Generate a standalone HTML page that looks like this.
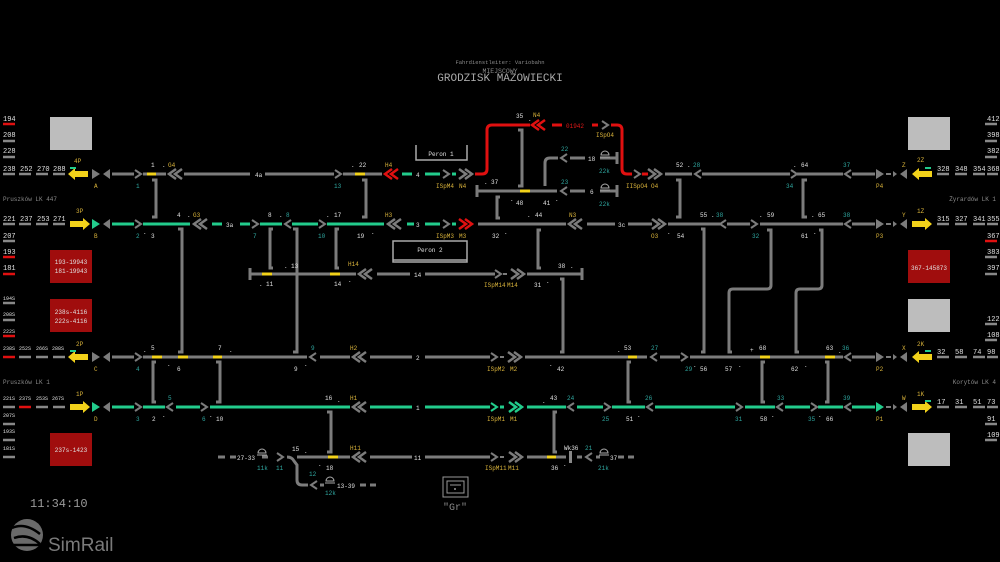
<!DOCTYPE html>
<html><head><meta charset="utf-8"><style>
html,body{margin:0;padding:0;background:#000;}
svg{display:block;}
text{font-family:"Liberation Mono",monospace;font-size:7px;}
.s{font-size:6px}
.w{fill:#e0e0e0}.t{fill:#2fa7a0}.y{fill:#d8b23a}.g{fill:#8a8a8a}.r{fill:#e01818}
.k{stroke:#7c7c7c;stroke-width:3;fill:none}
.gn{stroke:#22cc8c;stroke-width:3;fill:none}
.rd{stroke:#e01010;stroke-width:3;fill:none}
.yl{stroke:#f2d21a;stroke-width:3;fill:none}
.br{stroke:#7c7c7c;stroke-width:3;fill:none}
</style></head><body>
<svg width="1000" height="562" viewBox="0 0 1000 562" xmlns="http://www.w3.org/2000/svg">
<defs>
<path id="cr" d="M-3,-4 L3,0 L-3,4" fill="none" stroke-width="2"/>
<path id="cl" d="M3,-4 L-3,0 L3,4" fill="none" stroke-width="2"/>
<path id="dl" d="M8,-5 L1,0 L8,5 M14,-5 L7,0 L14,5" fill="none" stroke-width="2.5"/>
<path id="dr" d="M-8,-5 L-1,0 L-8,5 M-14,-5 L-7,0 L-14,5" fill="none" stroke-width="2.5"/>
<path id="tr" d="M0,-5 L8,0 L0,5Z"/>
<path id="tl" d="M0,-5 L-7,0 L0,5Z"/>
<path id="ts" d="M0,-3 L4,0 L0,3Z"/>
<path id="yl" d="M0,0 L7,-6 L7,-3 L20,-3 L20,3 L7,3 L7,6Z" fill="#f2d21a"/>
<path id="yr" d="M0,0 L-7,-6 L-7,-3 L-20,-3 L-20,3 L-7,3 L-7,6Z" fill="#f2d21a"/>
<path id="lamp" d="M-4,0 A4,4 0 0 1 4,0 Z M-5,2 H5" fill="none" stroke="#aaa" stroke-width="1"/>
</defs>

<!-- header -->
<text x="500" y="64" class="g" text-anchor="middle" style="font-size:5.5px">Fahrdienstleiter: Variobahn</text>
<text x="500" y="73" class="g" text-anchor="middle" style="font-size:6.5px">MIEJSCOWY</text>
<text x="500" y="81" text-anchor="middle" style="font-size:11px;fill:#a8a8a8">GRODZISK MAZOWIECKI</text>

<!-- boxes -->
<rect x="50" y="117" width="42" height="33" fill="#bdbdbd"/>
<rect x="908" y="117" width="42" height="33" fill="#bdbdbd"/>
<rect x="50" y="250" width="42" height="33" fill="#a00d0d"/>
<text x="71" y="264" class="w s" text-anchor="middle">193-19943</text>
<text x="71" y="273" class="w s" text-anchor="middle">181-19943</text>
<rect x="908" y="250" width="42" height="33" fill="#a00d0d"/>
<text x="929" y="270" class="w s" text-anchor="middle">367-145873</text>
<rect x="50" y="299" width="42" height="33" fill="#a00d0d"/>
<text x="71" y="314" class="w s" text-anchor="middle">238s-4116</text>
<text x="71" y="323" class="w s" text-anchor="middle">222s-4116</text>
<rect x="908" y="299" width="42" height="33" fill="#bdbdbd"/>
<rect x="50" y="433" width="42" height="33" fill="#a00d0d"/>
<text x="71" y="452" class="w s" text-anchor="middle">237s-1423</text>
<rect x="908" y="433" width="42" height="33" fill="#bdbdbd"/>

<!-- left column -->
<g class="w s">
<text x="3" y="121">194</text><text x="3" y="137">208</text><text x="3" y="153">228</text>
<text x="3" y="171">238</text><text x="20" y="171">252</text><text x="37" y="171">270</text><text x="53" y="171">288</text>
<text x="3" y="221">221</text><text x="20" y="221">237</text><text x="37" y="221">253</text><text x="53" y="221">271</text>
<text x="3" y="238">207</text><text x="3" y="254">193</text><text x="3" y="270">181</text>
<text x="3" y="300" style="font-size:5px">194S</text><text x="3" y="316" style="font-size:5px">208S</text><text x="3" y="333" style="font-size:5px">222S</text>
<text x="3" y="350" style="font-size:5px">238S</text><text x="19" y="350" style="font-size:5px">252S</text><text x="36" y="350" style="font-size:5px">266S</text><text x="52" y="350" style="font-size:5px">288S</text>
<text x="3" y="400" style="font-size:5px">221S</text><text x="19" y="400" style="font-size:5px">237S</text><text x="36" y="400" style="font-size:5px">253S</text><text x="52" y="400" style="font-size:5px">267S</text>
<text x="3" y="417" style="font-size:5px">207S</text><text x="3" y="433" style="font-size:5px">193S</text><text x="3" y="450" style="font-size:5px">181S</text>
</g>
<g stroke-width="2.5">
<path d="M3,124H15" stroke="#e01010"/><path d="M3,141H15M3,157H15" stroke="#888"/>
<path d="M3,174H15M19,174H31M36,174H48M53,174H65" stroke="#888"/>
<path d="M3,224H15M19,224H31M36,224H48M53,224H65M3,241H15" stroke="#888"/>
<path d="M3,257H15M3,274H15" stroke="#e01010"/>
<path d="M3,303H15M3,320H15" stroke="#888"/><path d="M3,336H15M3,357H15" stroke="#e01010"/>
<path d="M19,357H31M36,357H48M53,357H65" stroke="#888"/>
<path d="M3,407H15M36,407H48M53,407H65M3,424H15M3,440H15M3,457H15" stroke="#888"/><path d="M19,407H31" stroke="#e01010"/>
</g>
<!-- right column -->
<g class="w s">
<text x="987" y="121">412</text><text x="987" y="137">398</text><text x="987" y="153">382</text>
<text x="937" y="171">328</text><text x="955" y="171">348</text><text x="973" y="171">354</text><text x="987" y="171">368</text>
<text x="937" y="221">315</text><text x="955" y="221">327</text><text x="973" y="221">341</text><text x="987" y="221">355</text>
<text x="987" y="238">367</text><text x="987" y="254">383</text><text x="987" y="270">397</text>
<text x="987" y="321">122</text><text x="987" y="337">108</text>
<text x="937" y="354">32</text><text x="955" y="354">58</text><text x="973" y="354">74</text><text x="987" y="354">98</text>
<text x="937" y="404">17</text><text x="955" y="404">31</text><text x="973" y="404">51</text><text x="987" y="404">73</text>
<text x="987" y="421">91</text><text x="987" y="437">109</text>
</g>
<g stroke-width="2.5" stroke="#888">
<path d="M985,124H997M985,141H997M985,157H997M937,174H949M955,174H967M973,174H985M987,174H998"/>
<path d="M937,224H949M955,224H967M973,224H985M987,224H998M985,257H997M985,274H997"/>
<path d="M985,324H997M985,340H997M937,357H949M955,357H967M973,357H985M987,357H998"/>
<path d="M937,407H949M955,407H967M973,407H985M987,407H998M985,424H997M985,440H997"/>
</g>
<path d="M985,241H997" stroke="#e01010" stroke-width="2.5"/>

<!-- side labels -->
<text x="3" y="201" class="g s">Pruszków LK 447</text>
<text x="996" y="201" class="g s" text-anchor="end">Żyrardów LK 1</text>
<text x="3" y="384" class="g s">Pruszków LK 1</text>
<text x="996" y="384" class="g s" text-anchor="end">Korytów LK 4</text>

<!-- ===== crossovers / verticals ===== -->
<g class="br">
<path d="M152,180H156V217H152"/>
<path d="M362,180H366V217H362"/>
<path d="M178,229H182V352H178"/>
<path d="M273,229H270V268H273"/>
<path d="M293,229H297V352H293"/>
<path d="M339,229H336V268H339"/>
<path d="M156,362H153V402H156"/>
<path d="M216,362H220V402H216"/>
<path d="M327,412H331V452H327"/>
<path d="M500,197H497V218H500"/>
<path d="M518,130H522V186H518"/>
<path d="M541,230H538V268H541"/>
<path d="M560,279H563V352H560"/>
<path d="M631,362H628V402H631"/>
<path d="M557,412H554V452H557"/>
<path d="M676,180H680V217H676"/>
<path d="M807,180H803V217H807"/>
<path d="M701,229H704V352H701"/>
<path d="M767,230H771V285Q771,289 767,289H733Q729,289 729,293V352H732"/>
<path d="M819,230H822V285Q822,289 818,289H800Q796,289 796,293V352H799"/>
<path d="M765,362H762V402H765"/>
<path d="M825,362H828V402H825"/>
</g>

<!-- ===== ROW A y=174 ===== -->
<use href="#yl" x="68" y="174"/><path d="M70,168H76" stroke="#22cc8c" stroke-width="2"/>
<use href="#tr" x="92" y="174" fill="#7c7c7c"/><use href="#tl" x="110" y="174" fill="#7c7c7c"/>
<path class="k" d="M112,174H134M143,174H166M184,174H250M265,174H334M343,174H382M665,174H692M702,174H790M797,174H843M852,174H875"/>
<path class="yl" d="M147,174H156M355,174H365"/>
<g stroke="#7c7c7c"><use href="#cr" x="138" y="174"/><use href="#dl" x="168" y="174"/><use href="#cr" x="338" y="174"/><use href="#cr" x="446" y="174"/><use href="#dr" x="473" y="174"/><use href="#cr" x="605" y="125"/><use href="#cr" x="637" y="174"/><use href="#dr" x="662" y="174"/><use href="#cl" x="698" y="174"/><use href="#cr" x="794" y="174"/><use href="#cl" x="848" y="174"/></g>
<g stroke="#e01010"><use href="#dl" x="384" y="174"/><use href="#dl" x="531" y="125"/></g>
<path class="gn" d="M402,174H412M425,174H440M452,174H456"/>
<path class="rd" d="M475,174H482Q487,174 487,169V130Q487,125 492,125H530M552,125H562M592,125H598M611,125H617Q622,125 622,130V169Q622,174 627,174H632M642,174H648"/>
<use href="#tr" x="876" y="174" fill="#7c7c7c"/><path d="M886,174H891" stroke="#7c7c7c" stroke-width="2"/><use href="#ts" x="893" y="174" fill="#7c7c7c"/><use href="#tl" x="907" y="174" fill="#7c7c7c"/>
<use href="#yl" x="912" y="174"/><path d="M925,168H931" stroke="#22cc8c" stroke-width="2"/>
<text x="74" y="163" class="y s">4P</text><text x="94" y="188" class="y s">A</text><text x="136" y="188" class="t s">1</text>
<text x="151" y="167" class="w s">1</text><text x="162" y="167" class="w s">.</text><text x="168" y="167" class="y s">G4</text>
<text x="255" y="177" class="w s">4a</text><text x="334" y="188" class="t s">13</text>
<text x="351" y="167" class="w s">.</text><text x="359" y="167" class="w s">22</text><text x="385" y="167" class="y s">H4</text>
<text x="416" y="177" class="w s">4</text><text x="436" y="188" class="y s">ISpM4</text><text x="459" y="188" class="y s">N4</text>
<text x="516" y="118" class="w s">35</text><text x="528" y="121" class="w s">.</text><text x="533" y="117" class="y s">N4</text>
<text x="566" y="128" class="r s">01942</text><text x="596" y="137" class="y s">ISpO4</text>
<text x="626" y="188" class="y s">IISpO4</text><text x="651" y="188" class="y s">O4</text>
<text x="676" y="167" class="w s">52</text><text x="687" y="167" class="w s">.</text><text x="693" y="167" class="t s">28</text>
<text x="786" y="188" class="t s">34</text><text x="793" y="167" class="w s">.</text><text x="801" y="167" class="w s">64</text>
<text x="843" y="167" class="t s">37</text><text x="876" y="188" class="y s">P4</text><text x="902" y="167" class="y s">Z</text><text x="917" y="162" class="y s">2Z</text>

<!-- upper middle -->
<path d="M416,145V160H467V145M416,160H467" stroke="#aaa" stroke-width="1.5" fill="none"/>
<text x="441" y="156" class="w s" text-anchor="middle">Peron 1</text>
<path class="k" d="M545,186V163Q545,158 550,158H558M570,158H585M600,158H616M478,191H557M570,191H585M600,191H616"/>
<path class="br" d="M477,185V197M617,152V164M617,185V197"/>
<path class="yl" d="M520,191H530"/>
<g stroke="#7c7c7c"><use href="#cl" x="564" y="158"/><use href="#cl" x="564" y="191"/></g>
<use href="#lamp" x="605" y="155"/><use href="#lamp" x="605" y="188"/>
<text x="561" y="151" class="t s">22</text><text x="588" y="161" class="w s">18</text><text x="599" y="173" class="t s">22k</text>
<text x="561" y="184" class="t s">23</text><text x="590" y="194" class="w s">6</text><text x="599" y="206" class="t s">22k</text>
<text x="484" y="184" class="w s">.</text><text x="491" y="184" class="w s">37</text>
<text x="510" y="201" class="w s">.</text><text x="516" y="205" class="w s">48</text>
<text x="543" y="205" class="w s">41</text><text x="555" y="201" class="w s">.</text>

<!-- ===== ROW B y=224 ===== -->
<use href="#yr" x="90" y="224"/>
<use href="#tr" x="92" y="224" fill="#22cc8c"/><use href="#tl" x="110" y="224" fill="#7c7c7c"/>
<path class="gn" d="M112,224H134M143,224H190M212,224H222M240,224H250M260,224H282M292,224H318M327,224H384M407,224H414M425,224H440M452,224H456"/>
<path class="k" d="M478,224H566M587,224H615M628,224H652M668,224H720M727,224H750M760,224H843M852,224H875"/>
<g stroke="#7c7c7c"><use href="#cr" x="138" y="224"/><use href="#dl" x="193" y="224"/><use href="#cr" x="255" y="224"/><use href="#cl" x="288" y="224"/><use href="#cr" x="322" y="224"/><use href="#dl" x="387" y="224"/><use href="#cr" x="446" y="224"/><use href="#dl" x="568" y="224"/><use href="#dr" x="666" y="224"/><use href="#cl" x="723" y="224"/><use href="#cr" x="754" y="224"/><use href="#cl" x="848" y="224"/></g>
<g stroke="#e01010"><use href="#dr" x="473" y="224"/></g>
<use href="#tr" x="876" y="224" fill="#7c7c7c"/><path d="M886,224H891" stroke="#7c7c7c" stroke-width="2"/><use href="#ts" x="893" y="224" fill="#7c7c7c"/><use href="#tl" x="907" y="224" fill="#7c7c7c"/>
<use href="#yr" x="932" y="224"/>
<text x="76" y="213" class="y s">3P</text><text x="94" y="238" class="y s">B</text><text x="136" y="238" class="t s">2</text><text x="143" y="234" class="w s">.</text><text x="151" y="238" class="w s">3</text>
<text x="177" y="217" class="w s">4</text><text x="187" y="217" class="w s">.</text><text x="193" y="217" class="y s">G3</text>
<text x="226" y="227" class="w s">3a</text><text x="253" y="238" class="t s">7</text>
<text x="268" y="217" class="w s">8</text><text x="279" y="217" class="w s">.</text><text x="286" y="217" class="t s">8</text><text x="318" y="238" class="t s">10</text>
<text x="326" y="217" class="w s">.</text><text x="334" y="217" class="w s">17</text><text x="357" y="238" class="w s">19</text><text x="371" y="234" class="w s">.</text>
<text x="385" y="217" class="y s">H3</text><text x="416" y="227" class="w s">3</text><text x="436" y="238" class="y s">ISpM3</text><text x="459" y="238" class="y s">M3</text>
<text x="492" y="238" class="w s">32</text><text x="504" y="234" class="w s">.</text><text x="527" y="217" class="w s">.</text><text x="535" y="217" class="w s">44</text>
<text x="569" y="217" class="y s">N3</text><text x="618" y="227" class="w s">3c</text><text x="651" y="238" class="y s">O3</text><text x="667" y="234" class="w s">.</text>
<text x="677" y="238" class="w s">54</text><text x="700" y="217" class="w s">55</text><text x="711" y="217" class="w s">.</text><text x="716" y="217" class="t s">38</text>
<text x="752" y="238" class="t s">32</text><text x="759" y="217" class="w s">.</text><text x="767" y="217" class="w s">59</text>
<text x="801" y="238" class="w s">61</text><text x="813" y="234" class="w s">.</text><text x="811" y="217" class="w s">.</text><text x="818" y="217" class="w s">65</text>
<text x="843" y="217" class="t s">38</text><text x="876" y="238" class="y s">P3</text><text x="902" y="217" class="y s">Y</text><text x="917" y="213" class="y s">1Z</text>

<!-- ===== ROW 14 y=274 ===== -->
<path d="M393,241H467V262H393Z M393,260H467" stroke="#aaa" stroke-width="1.5" fill="none"/>
<text x="430" y="252" class="w s" text-anchor="middle">Peron 2</text>
<path class="k" d="M250,274H356M377,274H410M425,274H495M527,274H582"/>
<path class="br" d="M250,268V280M582,268V280"/>
<path class="yl" d="M262,274H272M330,274H340"/><path d="M503,274H507" stroke="#7c7c7c" stroke-width="2"/>
<g stroke="#7c7c7c"><use href="#dl" x="358" y="274"/><use href="#cr" x="498" y="274"/><use href="#dr" x="525" y="274"/></g>
<text x="259" y="286" class="w s">.</text><text x="266" y="286" class="w s">11</text><text x="284" y="268" class="w s">.</text><text x="291" y="268" class="w s">13</text>
<text x="334" y="286" class="w s">14</text><text x="348" y="282" class="w s">.</text><text x="348" y="266" class="y s">H14</text>
<text x="414" y="277" class="w s">14</text><text x="484" y="287" class="y s">ISpM14</text><text x="507" y="287" class="y s">M14</text>
<text x="534" y="287" class="w s">31</text><text x="546" y="283" class="w s">.</text><text x="558" y="268" class="w s">38</text><text x="570" y="268" class="w s">.</text>

<!-- ===== ROW C y=357 ===== -->
<use href="#yl" x="68" y="357"/><path d="M70,351H76" stroke="#22cc8c" stroke-width="2"/>
<use href="#tr" x="92" y="357" fill="#7c7c7c"/><use href="#tl" x="110" y="357" fill="#7c7c7c"/>
<path class="k" d="M112,357H134M143,357H307M320,357H350M370,357H412M425,357H490M525,357H647M660,357H680M690,357H843M852,357H875"/>
<path class="yl" d="M152,357H162M178,357H188M213,357H222M628,357H637M760,357H770M825,357H835"/><path d="M500,357H504" stroke="#7c7c7c" stroke-width="2"/>
<g stroke="#7c7c7c"><use href="#cr" x="138" y="357"/><use href="#cl" x="313" y="357"/><use href="#dl" x="352" y="357"/><use href="#cr" x="494" y="357"/><use href="#dr" x="522" y="357"/><use href="#cl" x="654" y="357"/><use href="#cr" x="684" y="357"/><use href="#cl" x="848" y="357"/></g>
<use href="#tr" x="876" y="357" fill="#7c7c7c"/><path d="M886,357H891" stroke="#7c7c7c" stroke-width="2"/><use href="#ts" x="893" y="357" fill="#7c7c7c"/><use href="#tl" x="907" y="357" fill="#7c7c7c"/>
<use href="#yl" x="912" y="357"/><path d="M925,351H931" stroke="#22cc8c" stroke-width="2"/>
<text x="76" y="346" class="y s">2P</text><text x="94" y="371" class="y s">C</text><text x="136" y="371" class="t s">4</text>
<text x="143" y="352" class="w s">.</text><text x="151" y="350" class="w s">5</text><text x="167" y="366" class="w s">.</text><text x="177" y="371" class="w s">6</text>
<text x="218" y="350" class="w s">7</text><text x="229" y="352" class="w s">.</text><text x="294" y="371" class="w s">9</text><text x="304" y="366" class="w s">.</text><text x="311" y="350" class="t s">9</text>
<text x="350" y="350" class="y s">H2</text><text x="416" y="360" class="w s">2</text><text x="487" y="371" class="y s">ISpM2</text><text x="510" y="371" class="y s">M2</text>
<text x="549" y="366" class="w s">.</text><text x="557" y="371" class="w s">42</text><text x="617" y="352" class="w s">.</text><text x="624" y="350" class="w s">53</text><text x="651" y="350" class="t s">27</text>
<text x="685" y="371" class="t s">29</text><text x="693" y="367" class="w s">.</text><text x="700" y="371" class="w s">56</text><text x="725" y="371" class="w s">57</text><text x="738" y="367" class="w s">.</text>
<text x="750" y="352" class="w s">+</text><text x="759" y="350" class="w s">68</text><text x="791" y="371" class="w s">62</text><text x="804" y="367" class="w s">.</text>
<text x="826" y="350" class="w s">63</text><text x="838" y="353" class="w s">.</text><text x="842" y="350" class="t s">36</text>
<text x="876" y="371" class="y s">P2</text><text x="902" y="350" class="y s">X</text><text x="917" y="346" class="y s">2K</text>

<!-- ===== ROW D y=407 ===== -->
<use href="#yr" x="90" y="407"/>
<use href="#tr" x="92" y="407" fill="#22cc8c"/><use href="#tl" x="110" y="407" fill="#7c7c7c"/>
<path class="gn" d="M112,407H134M143,407H165M176,407H200M210,407H350M370,407H412M425,407H490M500,407H504M527,407H566M577,407H603M612,407H645M655,407H735M745,407H775M785,407H810M818,407H843M852,407H875"/>
<g stroke="#7c7c7c"><use href="#cr" x="138" y="407"/><use href="#cl" x="170" y="407"/><use href="#cr" x="204" y="407"/><use href="#dl" x="352" y="407"/><use href="#cl" x="571" y="407"/><use href="#cr" x="607" y="407"/><use href="#cl" x="650" y="407"/><use href="#cr" x="739" y="407"/><use href="#cl" x="780" y="407"/><use href="#cr" x="814" y="407"/><use href="#cl" x="848" y="407"/></g>
<g stroke="#22cc8c"><use href="#cr" x="494" y="407"/><use href="#dr" x="523" y="407"/></g>
<use href="#tr" x="876" y="407" fill="#22cc8c"/><path d="M886,407H891" stroke="#7c7c7c" stroke-width="2"/><use href="#ts" x="893" y="407" fill="#7c7c7c"/><use href="#tl" x="907" y="407" fill="#7c7c7c"/>
<use href="#yr" x="932" y="407"/><path d="M925,401H931" stroke="#22cc8c" stroke-width="2"/>
<text x="76" y="396" class="y s">1P</text><text x="94" y="421" class="y s">D</text><text x="136" y="421" class="t s">3</text>
<text x="152" y="421" class="w s">2</text><text x="162" y="417" class="w s">.</text><text x="168" y="400" class="t s">5</text><text x="202" y="421" class="t s">6</text><text x="209" y="417" class="w s">.</text><text x="216" y="421" class="w s">10</text>
<text x="325" y="400" class="w s">16</text><text x="337" y="402" class="w s">.</text><text x="350" y="400" class="y s">H1</text>
<text x="416" y="410" class="w s">1</text><text x="487" y="421" class="y s">ISpM1</text><text x="510" y="421" class="y s">M1</text>
<text x="542" y="403" class="w s">.</text><text x="550" y="400" class="w s">43</text><text x="567" y="400" class="t s">24</text><text x="602" y="421" class="t s">25</text>
<text x="626" y="421" class="w s">51</text><text x="637" y="417" class="w s">.</text><text x="645" y="400" class="t s">26</text><text x="735" y="421" class="t s">31</text>
<text x="760" y="421" class="w s">58</text><text x="771" y="417" class="w s">.</text><text x="777" y="400" class="t s">33</text>
<text x="808" y="421" class="t s">35</text><text x="818" y="417" class="w s">.</text><text x="826" y="421" class="w s">66</text><text x="843" y="400" class="t s">39</text>
<text x="876" y="421" class="y s">P1</text><text x="902" y="400" class="y s">W</text><text x="917" y="396" class="y s">1K</text>

<!-- ===== ROW 11 y=457 ===== -->
<path class="k" d="M218,457H225M230,457H236M262,457H268M287,457Q292,457 294,461L297,465V480Q297,485 302,485H308M320,485H324M360,485H366M370,485H376M297,457H350M370,457H412M425,457H490M527,457H566M577,457H582M596,457H600M618,457H624M628,457H634"/>
<path class="yl" d="M328,457H338M547,457H556"/><path d="M500,457H504" stroke="#7c7c7c" stroke-width="2"/>
<rect x="569" y="451" width="3" height="12" fill="#888"/>
<g stroke="#7c7c7c"><use href="#cr" x="280" y="457"/><use href="#cl" x="314" y="485"/><use href="#dl" x="352" y="457"/><use href="#cr" x="494" y="457"/><use href="#dr" x="523" y="457"/><use href="#cl" x="589" y="457"/></g>
<use href="#lamp" x="262" y="453"/><use href="#lamp" x="330" y="481"/><use href="#lamp" x="604" y="453"/>
<text x="237" y="460" class="w s">27-33</text><text x="257" y="470" class="t s">11k</text><text x="276" y="470" class="t s">11</text>
<text x="309" y="476" class="t s">12</text><text x="325" y="495" class="t s">12k</text><text x="337" y="488" class="w s">13-39</text>
<text x="292" y="451" class="w s">15</text><text x="304" y="453" class="w s">.</text><text x="318" y="466" class="w s">.</text><text x="326" y="470" class="w s">18</text>
<text x="350" y="450" class="y s">H11</text><text x="414" y="460" class="w s">11</text><text x="485" y="470" class="y s">ISpM11</text><text x="508" y="470" class="y s">M11</text>
<text x="551" y="470" class="w s">36</text><text x="563" y="466" class="w s">.</text><text x="564" y="450" class="w s">Wk36</text><text x="585" y="450" class="t s">21</text>
<text x="598" y="470" class="t s">21k</text><text x="610" y="460" class="w s">37</text>

<!-- Gr -->
<rect x="443" y="477" width="25" height="20" fill="none" stroke="#999" stroke-width="1"/>
<rect x="447" y="481" width="17" height="12" fill="none" stroke="#999" stroke-width="1"/>
<path d="M450,485H461" stroke="#999"/><circle cx="455" cy="489" r="1" fill="#999"/>
<text x="455" y="510" class="g" text-anchor="middle" style="font-size:10px">"Gr"</text>

<!-- clock & logo -->
<text x="30" y="507" style="font-size:12px;fill:#9a9a9a">11:34:10</text>
<g>
<circle cx="27" cy="535" r="16" fill="#6a6a6a"/>
<path d="M12,528Q25,522 40,534M14,538Q28,533 40,544M11,545H43" stroke="#000" stroke-width="2.5" fill="none"/>
</g>
<text x="48" y="551" style="font-family:'Liberation Sans',sans-serif;font-size:19px;fill:#7a7a7a">SimRail</text>
</svg>
</body></html>
